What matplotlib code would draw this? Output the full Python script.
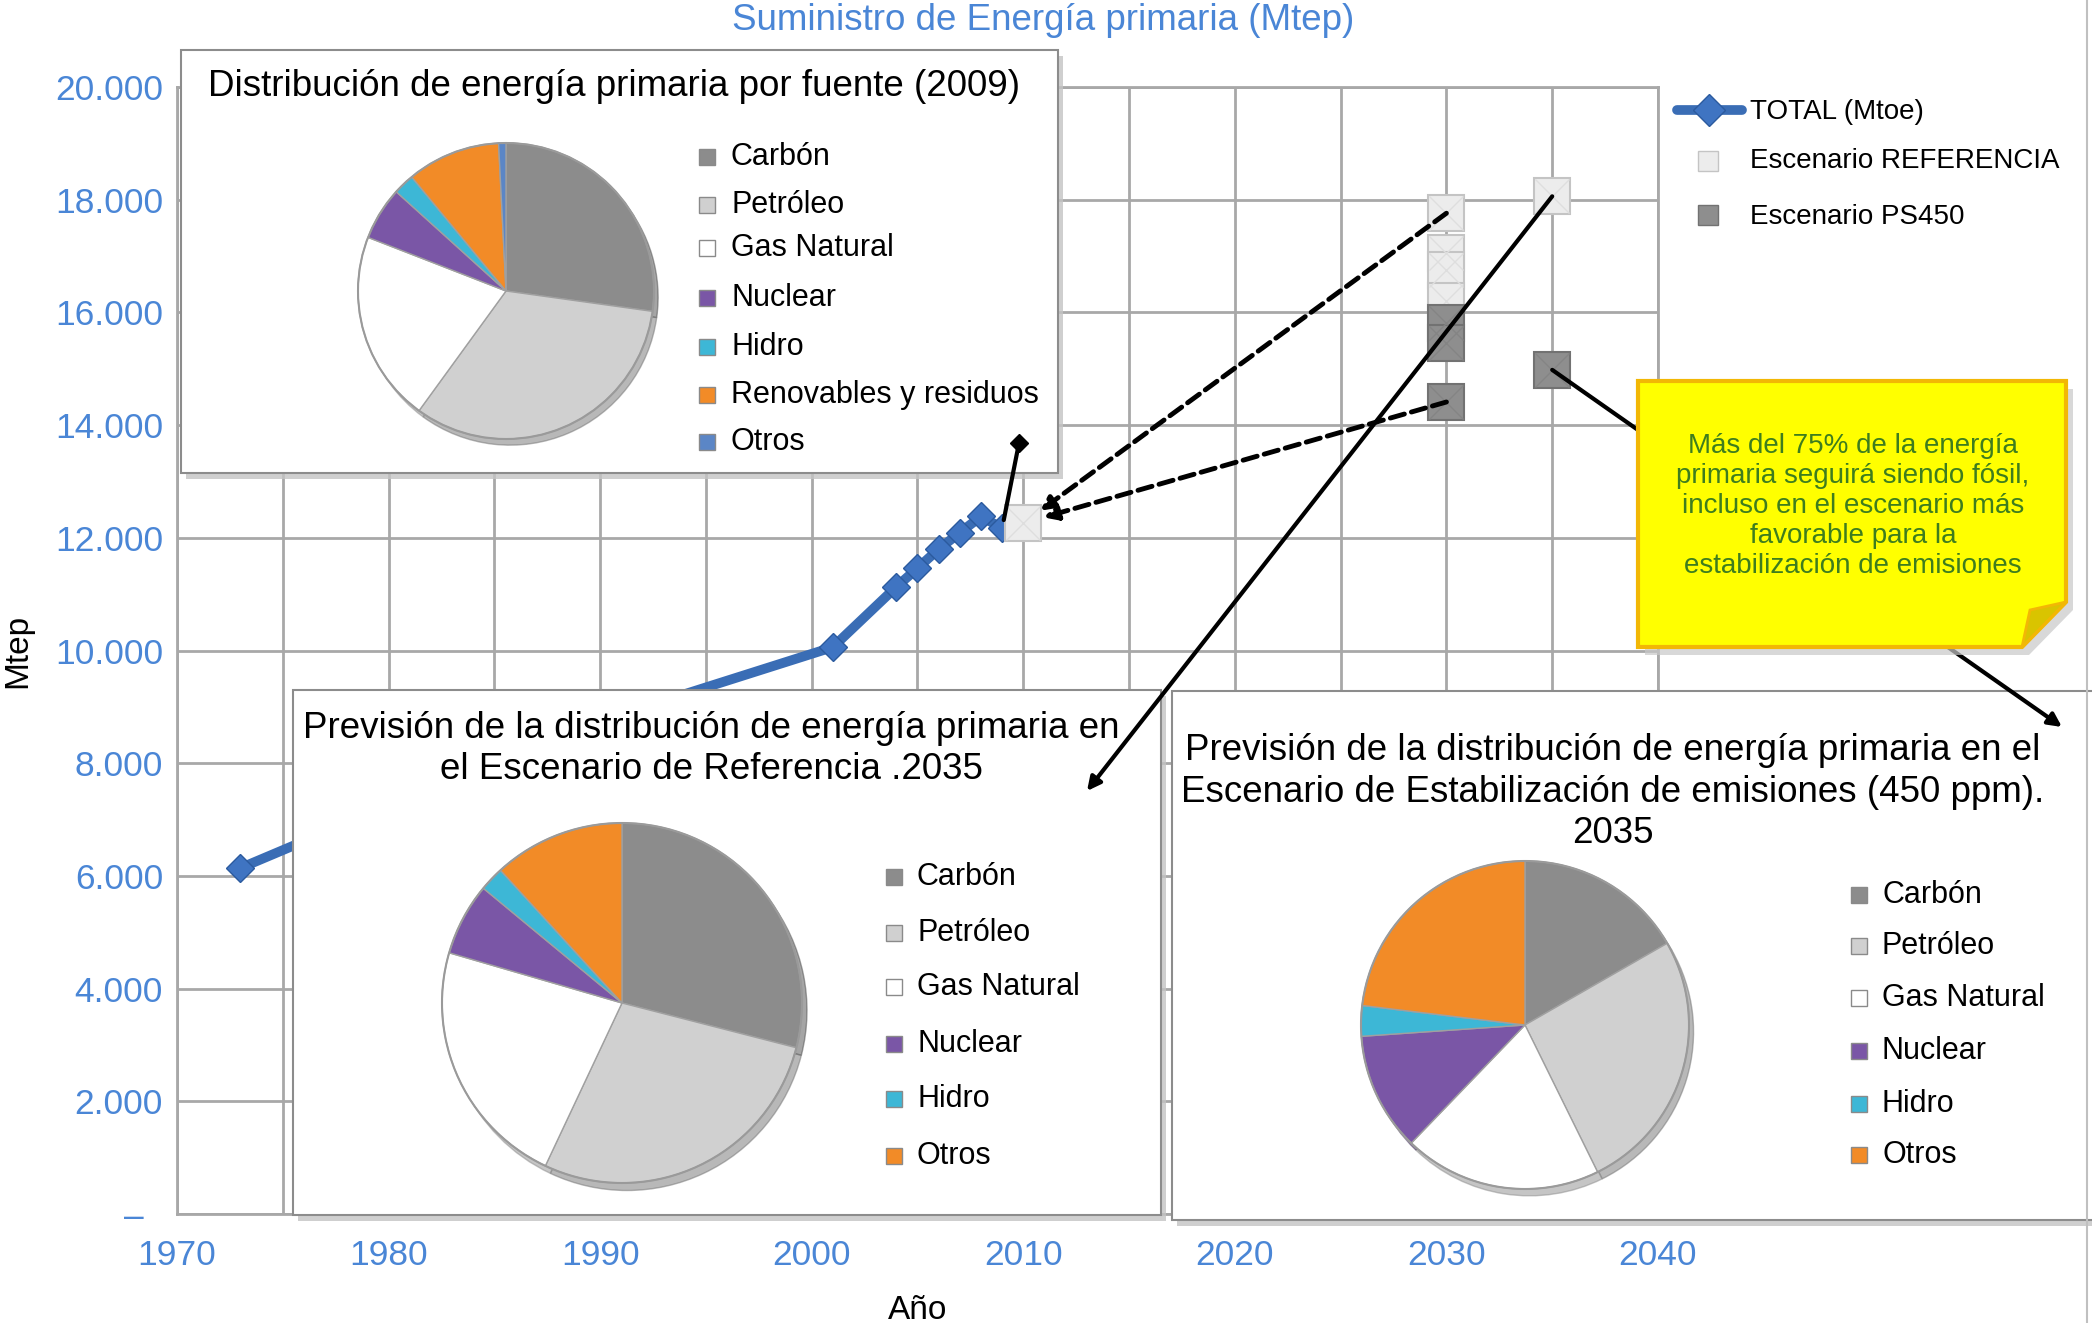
import matplotlib.pyplot as plt
from matplotlib.patches import Rectangle, Polygon, Circle, ConnectionPatch
from matplotlib.ticker import MultipleLocator, FuncFormatter

W, H = 2092, 1323

# serie historica (Mtep)
years_total = [1973, 1980, 1990, 2001, 2004, 2005, 2006, 2007, 2008, 2009]
total = [6140, 7250, 8750, 10060, 11130, 11460, 11800, 12090, 12380, 12170]

# escenarios
ref_years = [2010, 2030, 2030, 2030, 2030, 2035]
ref_vals = [12260, 17760, 17050, 16760, 16200, 18060]
ps_years = [2030, 2030, 2030, 2035]
ps_vals = [15810, 15460, 14410, 14980]

# distribuciones (%)
fuentes_2009 = ["Carbón", "Petróleo", "Gas Natural", "Nuclear", "Hidro",
                "Renovables y residuos", "Otros"]
shares_2009 = [27.2, 32.8, 20.9, 5.8, 2.3, 10.2, 0.8]
fuentes_2035 = ["Carbón", "Petróleo", "Gas Natural", "Nuclear", "Hidro", "Otros"]
shares_ref_2035 = [29.0, 28.0, 22.5, 6.5, 2.2, 11.8]
shares_450_2035 = [16.7, 26.0, 19.5, 11.7, 3.0, 23.1]

col_2009 = ["#8c8c8c", "#d0d0d0", "#ffffff", "#7a56a6", "#3db7d6", "#f28b27", "#5b86c6"]
col_2035 = ["#8c8c8c", "#d0d0d0", "#ffffff", "#7a56a6", "#3db7d6", "#f28b27"]

BLUE_TXT = "#4a86d6"
GRID = "#a8a8a8"

plt.rcParams["font.family"] = ["Liberation Sans", "DejaVu Sans"]

fig = plt.figure(figsize=(W / 100, H / 100), dpi=100)


def rect(x0, y0, x1, y1):
    # pixel box, origin top-left -> add_axes rectangle
    return [x0 / W, 1 - y1 / H, (x1 - x0) / W, (y1 - y0) / H]


# ---- main chart
ax = fig.add_axes(rect(177, 87, 1658, 1214), zorder=0)
ax.set_xlim(1970, 2040)
ax.set_ylim(0, 20000)
ax.xaxis.set_major_locator(MultipleLocator(10))
ax.xaxis.set_minor_locator(MultipleLocator(5))
ax.yaxis.set_major_locator(MultipleLocator(2000))
ax.yaxis.set_major_formatter(FuncFormatter(
    lambda v, p: "–  " if v == 0 else f"{v:,.0f}".replace(",", ".")))
ax.grid(which="both", color=GRID, lw=2)
ax.set_axisbelow(True)
for s in ax.spines.values():
    s.set_color(GRID)
    s.set_linewidth(2)
ax.tick_params(which="both", length=0, labelsize=25.5, labelcolor=BLUE_TXT)
ax.tick_params(axis="y", pad=10)
ax.tick_params(axis="x", pad=18)
ax.set_ylabel("Mtep", fontsize=24)
ax.yaxis.set_label_coords(-0.097, 0.5)
ax.set_xlabel("Año", fontsize=24)
ax.xaxis.set_label_coords(0.5, -0.072)

ax.plot(years_total, total, color="#3a6db5", lw=7, marker="D", ms=14,
        mfc="#3f74c2", mec="#2b5a9e", mew=1, zorder=3, solid_capstyle="round")
ax.plot(ref_years, ref_vals, ls="none", marker="s", ms=26.5, mfc="#ececec",
        mec="#c4c4c4", mew=1.5, zorder=4)
ax.plot(ref_years, ref_vals, ls="none", marker="x", ms=24, mec="#dedede",
        mew=1, zorder=4)
ax.plot(ps_years, ps_vals, ls="none", marker="s", ms=26.5, mfc="#8e8e8e",
        mec="#727272", mew=1.5, zorder=5)
ax.plot(ps_years, ps_vals, ls="none", marker="x", ms=24, mec="#848484",
        mew=1, zorder=5)

for (xs, ys) in [(ref_years[1], ref_vals[1]), (ps_years[2], ps_vals[2])]:
    ax.annotate("", xy=(ref_years[0], ref_vals[0]), xytext=(xs, ys),
                arrowprops=dict(arrowstyle="-|>", lw=3.5, ls=(0, (3, 1.5)),
                                color="black", shrinkA=0, shrinkB=15,
                                mutation_scale=20), zorder=6)

fig.text(1043 / W, 1 - 20 / H, "Suministro de Energía primaria (Mtep)",
         ha="center", va="center", color=BLUE_TXT, fontsize=26.5)

# ---- overlay in pixel coordinates
ov = fig.add_axes([0, 0, 1, 1], zorder=1)
ov.set_xlim(0, W)
ov.set_ylim(H, 0)
ov.axis("off")


def box(x0, y0, x1, y1):
    ov.add_patch(Rectangle((x0 + 5, y0 + 6), x1 - x0, y1 - y0, fc="#c4c4c4",
                           ec="none", alpha=0.8, zorder=1))
    ov.add_patch(Rectangle((x0, y0), x1 - x0, y1 - y0, fc="white",
                           ec="#8c8c8c", lw=1.5, zorder=2))


def pie(cx, cy, r, shares, colors):
    pa = fig.add_axes(rect(cx - 1.12 * r, cy - 1.12 * r, cx + 1.12 * r, cy + 1.12 * r),
                      zorder=2)
    pa.pie(shares, colors=colors, startangle=90, counterclock=False,
           wedgeprops=dict(edgecolor="#a0a0a0", linewidth=1.0),
           shadow=dict(ox=0.02, oy=-0.03, shade=0.45))
    pa.add_patch(Circle((0, 0), 1, fill=False, ec="#9a9a9a", lw=1.5))
    pa.set_xlim(-1.12, 1.12)
    pa.set_ylim(-1.12, 1.12)


def legend(mx, tx, rows, labels, colors, fs=22):
    for y, lab, c in zip(rows, labels, colors):
        ov.plot([mx], [y], marker="s", ms=11.5, mfc=c, mec="#8a8a8a", mew=1, zorder=3)
        ov.text(tx, y, lab, fontsize=fs, va="center", ha="left", zorder=3)


# pie 2009
box(181, 50, 1058, 473)
ov.text(614, 87, "Distribución de energía primaria por fuente (2009)",
        ha="center", va="center", fontsize=26.5, zorder=3)
pie(506, 291, 148, shares_2009, col_2009)
legend(707, 731, [157, 205, 248, 298, 347, 395, 442], fuentes_2009, col_2009)

# pie referencia 2035
box(293, 690, 1161, 1215)
ov.text(711, 749, "Previsión de la distribución de energía primaria en\n"
        "el Escenario de Referencia .2035", ha="center", va="center",
        fontsize=26.5, linespacing=1.25, zorder=3)
pie(622, 1003, 180, shares_ref_2035, col_2035)
legend(894, 917, [877, 933, 987, 1044, 1099, 1156], fuentes_2035, col_2035)

# pie 450 ppm 2035
box(1172, 691, 2120, 1220)
ov.text(1613, 792, "Previsión de la distribución de energía primaria en el\n"
        "Escenario de Estabilización de emisiones (450 ppm).\n2035",
        ha="center", va="center", fontsize=26.5, linespacing=1.25, zorder=3)
pie(1525, 1025, 164, shares_450_2035, col_2035)
legend(1859, 1882, [895, 946, 998, 1051, 1104, 1155], fuentes_2035, col_2035)

# main legend
ov.plot([1677, 1742], [110, 110], color="#3a6db5", lw=7, solid_capstyle="round",
        zorder=3)
ov.plot([1709], [110], marker="D", ms=16, mfc="#3f74c2", mec="#2b5a9e", zorder=3)
ov.plot([1708], [161], marker="s", ms=15, mfc="#ececec", mec="#c4c4c4", zorder=3)
ov.plot([1708], [215], marker="s", ms=15, mfc="#8e8e8e", mec="#727272", zorder=3)
for y, lab in zip([112, 161, 217], ["TOTAL (Mtoe)", "Escenario REFERENCIA",
                                   "Escenario PS450"]):
    ov.text(1750, y, lab, fontsize=20, va="center", ha="left", zorder=3)

# connectors
c = ConnectionPatch(xyA=(years_total[-1], total[-1]), coordsA="data", axesA=ax,
                    xyB=(1019, 443), coordsB="data", axesB=ov,
                    arrowstyle="-", lw=3, color="black", shrinkA=6, shrinkB=0,
                    zorder=5)
ov.add_artist(c)
ov.plot([1019], [443], marker="D", ms=9, color="black", zorder=6)

for (xa, ya), xyb in [((ref_years[-1], ref_vals[-1]), (1087, 791)),
                      ((ps_years[-1], ps_vals[-1]), (2062, 727))]:
    c = ConnectionPatch(xyA=(xa, ya), coordsA="data", axesA=ax,
                        xyB=xyb, coordsB="data", axesB=ov,
                        arrowstyle="-|>", lw=3, color="black", shrinkA=0,
                        shrinkB=0, mutation_scale=20, zorder=5)
    ov.add_artist(c)

# callout
ov.add_patch(Polygon([(1645, 389), (2073, 389), (2073, 610), (2029, 655), (1645, 655)],
                     closed=True, fc="#c8c8c8", ec="none", alpha=0.7, zorder=9))
ov.add_patch(Polygon([(1638, 381), (2066, 381), (2066, 602), (2022, 647), (1638, 647)],
                     closed=True, fc="#ffff00", ec="#f2b705", lw=3, zorder=10))
ov.add_patch(Polygon([(2066, 602), (2022, 647), (2030, 610)], closed=True,
                     fc="#d9c400", ec="#f2b705", lw=2, zorder=11))
ov.text(1853, 506, "Más del 75% de la energía\nprimaria seguirá siendo fósil,\n"
        "incluso en el escenario más\nfavorable para la\n"
        "estabilización de emisiones", ha="center", va="center",
        color="#3e7d1e", fontsize=20, linespacing=1.19, zorder=12)

ov.plot([2087, 2087], [0, H], color="#c0c0c0", lw=1.5, zorder=8)

fig.savefig("out.png", dpi=100)
